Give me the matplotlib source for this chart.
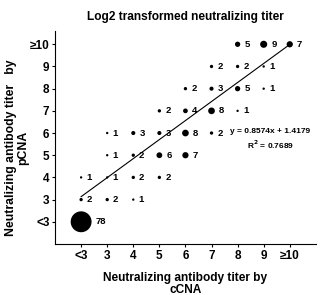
import matplotlib.pyplot as plt
import numpy as np

plt.rcParams['font.family'] = ['Liberation Sans', 'DejaVu Sans']
plt.rcParams['font.weight'] = 'bold'

# ccna titer (x), pcna titer (y), number of samples
x_vals = [8, 9, 10, 7, 8, 9, 6, 7, 8, 9, 5, 6, 7, 8, 3, 4, 5, 6, 7, 3, 4, 5, 6, 2, 3, 4, 5, 2, 3, 4, 2]
y_vals = [10, 10, 10, 9, 9, 9, 8, 8, 8, 8, 7, 7, 7, 7, 6, 6, 6, 6, 6, 5, 5, 5, 5, 4, 4, 4, 4, 3, 3, 3, 2]
counts = [5, 9, 7, 2, 2, 1, 2, 3, 5, 1, 2, 4, 8, 1, 1, 3, 3, 8, 2, 1, 2, 6, 7, 1, 1, 2, 2, 2, 2, 1, 78]

tick_pos = [2, 3, 4, 5, 6, 7, 8, 9, 10]
tick_labels = ['<3', '3', '4', '5', '6', '7', '8', '9', '≥10']

slope = 0.8574
intercept = 1.4179
r2 = 0.7689

fig = plt.figure(figsize=(3.2, 2.95), dpi=100)
ax = fig.add_axes([0.172, 0.173, 0.815, 0.722])

sizes = [2.9 * n for n in counts]
ax.scatter(x_vals, y_vals, s=sizes, color='black', zorder=3, linewidths=0)

for xv, yv, n, s in zip(x_vals, y_vals, counts, sizes):
	off = np.sqrt(s) / 2 + 3
	ax.annotate(str(n), (xv, yv), xytext=(off, 0), textcoords='offset points',
		ha='left', va='center', fontsize=6.8, fontweight='bold')

# regression line
lx = np.array([2, 10])
ax.plot(lx, slope * lx + intercept, color='black', lw=0.8)

ax.text(9.25, 6.05, 'y = %.4fx + %.4f' % (slope, intercept), ha='center', va='center',
	fontsize=6, fontweight='bold')
ax.text(9.25, 5.45, 'R$^2$ = %.4f' % r2, ha='center', va='center', fontsize=6, fontweight='bold')

ax.set_xlim(1, 11)
ax.set_ylim(1, 10.6)
ax.set_xticks(tick_pos)
ax.set_xticklabels(tick_labels)
ax.set_yticks(tick_pos)
ax.set_yticklabels(tick_labels)
ax.tick_params(labelsize=8.5, length=2, width=0.8, pad=2)
for lab in ax.get_xticklabels() + ax.get_yticklabels():
	lab.set_fontweight('bold')

ax.spines['top'].set_visible(False)
ax.spines['right'].set_visible(False)
ax.spines['left'].set_linewidth(0.8)
ax.spines['bottom'].set_linewidth(0.8)

ax.set_xlabel('Neutralizing antibody titer by\ncCNA', fontsize=8.6, fontweight='bold', linespacing=1.0)
ax.set_ylabel('Neutralizing antibody titer   by\npCNA', fontsize=8.8, fontweight='bold', linespacing=1.0)
ax.xaxis.set_label_coords(0.5, -0.13)
ax.xaxis.label.set_va('top')
ax.yaxis.set_label_coords(-0.1, 0.45)
ax.set_title('Log2 transformed neutralizing titer', fontsize=8.6, fontweight='bold', pad=8)

plt.savefig('out.png', dpi=100)
